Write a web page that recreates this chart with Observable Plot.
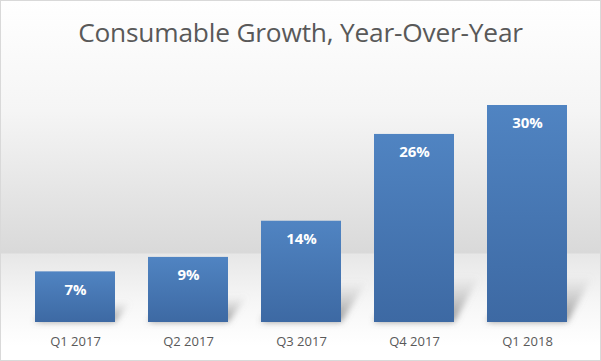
<!DOCTYPE html>
<html>
<head>
<meta charset="utf-8">
<script src="https://cdn.jsdelivr.net/npm/d3@7"></script>
<script src="https://cdn.jsdelivr.net/npm/@observablehq/plot@0.6"></script>
<style>
  html, body { margin: 0; padding: 0; background: #fff; }
  #wrap {
    width: 601px; height: 361px; box-sizing: border-box;
    border: 1px solid #d9d9d9;
    background: linear-gradient(to bottom, #ffffff 0px, #f5f5f5 110px, #d9d9d9 252px, #e7e7e7 253px, #f6f6f6 300px, #ffffff 345px);
    position: relative; overflow: hidden;
  }
  #title {
    height: 79px; box-sizing: border-box; padding-top: 13px;
    text-align: center; font-family: "Open Sans", sans-serif; font-size: 26.3px;
    color: #595959; letter-spacing: -0.2px; white-space: nowrap;
  }
  svg { display: block; background: transparent; overflow: visible; }
</style>
</head>
<body>
<div id="wrap">
  <div id="title">Consumable Growth, Year-Over-Year</div>
  <div id="chart"></div>
</div>
<script>
const quarters = ["Q1 2017", "Q2 2017", "Q3 2017", "Q4 2017", "Q1 2018"];
const growth = [7, 9, 14, 26, 30];
const labels = ["7%", "9%", "14%", "26%", "30%"];

const data = quarters.map((q, i) => ({quarter: q, value: growth[i], label: labels[i]}));

const defs = () => {
  const g = d3.create("svg:defs");
  const lg = g.append("linearGradient").attr("id", "barGrad").attr("x1", 0).attr("x2", 0).attr("y1", 0).attr("y2", 1);
  lg.append("stop").attr("offset", "0%").attr("stop-color", "#5084c2");
  lg.append("stop").attr("offset", "100%").attr("stop-color", "#3d69a3");
  const sg = g.append("linearGradient").attr("id", "shGrad").attr("x1", 0).attr("x2", 0).attr("y1", 1).attr("y2", 0);
  sg.append("stop").attr("offset", "0%").attr("stop-color", "#6e6e6e").attr("stop-opacity", 0.75);
  sg.append("stop").attr("offset", "100%").attr("stop-color", "#9a9a9a").attr("stop-opacity", 0);
  const f = g.append("filter").attr("id", "blur").attr("x", "-50%").attr("y", "-50%").attr("width", "200%").attr("height", "200%");
  f.append("feGaussianBlur").attr("stdDeviation", 3);
  return g.node();
};

const shadows = (index, scales) => {
  const x = scales.x, y = scales.y;
  const bw = x.bandwidth ? x.bandwidth() : 80;
  const g = d3.create("svg:g").attr("filter", "url(#blur)");
  data.forEach(d => {
    const x0 = x(d.quarter), x1 = x0 + bw;
    const by = y(0), ty = y(d.value);
    const H = by - ty;
    const h = Math.min(H * 0.4, 46), w = Math.min(H * 0.3, 26);
    g.append("polygon")
      .attr("points", `${x0},${by} ${x1},${by} ${x1 + w},${by - h} ${x0 + w},${by - h}`)
      .attr("fill", "url(#shGrad)");
  });
  return g.node();
};

const chart = Plot.plot({
  width: 599,
  height: 280,
  marginTop: 25,
  marginBottom: 38,
  marginLeft: 17.5,
  marginRight: 16.5,
  style: {background: "transparent", overflow: "visible"},
  x: {domain: quarters, paddingInner: 0.292, paddingOuter: 0.146, label: null},
  y: {domain: [0, 30], axis: null},
  marks: [
    defs,
    shadows,
    Plot.barY(data, {x: "quarter", y: "value", fill: "url(#barGrad)"}),
    Plot.text(data, {x: "quarter", y: "value", text: "label", dy: 18, fill: "white",
      fontWeight: "bold", fontSize: 15, fontFamily: "Open Sans, sans-serif", lineAnchor: "middle"}),
    Plot.axisX({tickSize: 0, tickPadding: 14, fontSize: 13, fontFamily: "Open Sans, sans-serif",
      color: "#595959", label: null})
  ]
});
document.getElementById("chart").appendChild(chart);
</script>
</body>
</html>
